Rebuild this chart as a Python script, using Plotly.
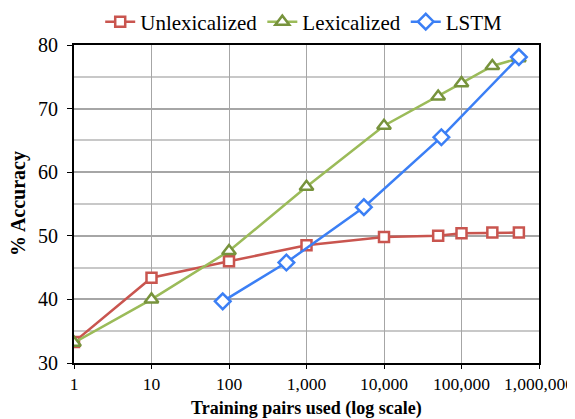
import plotly.graph_objects as go

x_unlex = [1, 10, 100, 1000, 10000, 50000, 100000, 250000, 550000]
y_unlex = [33.3, 43.4, 46.0, 48.5, 49.8, 50.0, 50.4, 50.5, 50.5]

x_lex = [1, 10, 100, 1000, 10000, 50000, 100000, 250000, 550000]
y_lex = [33.2, 40.0, 47.6, 57.7, 67.3, 71.9, 74.0, 76.7, 77.9]

x_lstm = [83, 550, 5500, 55000, 550000]
y_lstm = [39.7, 45.8, 54.5, 65.5, 78.1]

x_tickvals = [1, 10, 100, 1000, 10000, 100000, 1000000]
x_ticktext = ["1", "10", "100", "1,000", "10,000", "100,000", "1,000,000"]

FONT = "Liberation Serif"

# page body has an 8px margin; figure sized so it fills the 575x419 window
W, H = 567, 411
ML, MR, MT, MB = 66, 36, 37, 56
PW, PH = W - ML - MR, H - MT - MB

fig = go.Figure()
fig.add_trace(go.Scatter(
    x=x_unlex, y=y_unlex, name="Unlexicalized", mode="lines+markers",
    line=dict(color="#C9554F", width=2.5),
    marker=dict(symbol="square", size=10, color="white",
                line=dict(color="#C9554F", width=2.5)),
))
fig.add_trace(go.Scatter(
    x=x_lex, y=y_lex, name="Lexicalized", mode="lines+markers",
    line=dict(color="#9BBB59", width=2.5),
    marker=dict(symbol="triangle-up", size=12, color="white",
                line=dict(color="#77933C", width=2.5)),
))
fig.add_trace(go.Scatter(
    x=x_lstm, y=y_lstm, name="LSTM", mode="lines+markers",
    line=dict(color="#3B7FF5", width=2.5),
    marker=dict(symbol="diamond", size=12, color="white",
                line=dict(color="#3B7FF5", width=2.5)),
))

fig.update_layout(
    width=W, height=H,
    margin=dict(l=ML, r=MR, t=MT, b=MB, autoexpand=False),
    paper_bgcolor="white", plot_bgcolor="white",
    font=dict(family=FONT, size=19, color="black"),
    showlegend=True,
    legend=dict(orientation="h", x=0.494, xanchor="center", y=1 + 23 / PH, yanchor="middle",
                font=dict(family=FONT, size=21, color="black"),
                tracegroupgap=0, itemsizing="trace",
                bgcolor="rgba(0,0,0,0)"),
    annotations=[
        dict(text="<b>% Accuracy</b>", xref="paper", yref="paper",
             x=(10 - ML) / PW, y=0.5, xanchor="center", yanchor="middle",
             textangle=-90, showarrow=False, font=dict(family=FONT, size=20)),
        dict(text="<b>Training pairs used (log scale)</b>", xref="paper", yref="paper",
             x=0.5, y=-45 / PH, xanchor="center", yanchor="middle",
             showarrow=False, font=dict(family=FONT, size=18)),
    ],
)
fig.update_xaxes(
    type="log", range=[0, 6],
    tickvals=x_tickvals, ticktext=x_ticktext,
    showgrid=True, gridcolor="#A6A6A6", gridwidth=1,
    showline=True, linecolor="black", linewidth=2, mirror=True,
    ticks="outside", ticklen=4, tickcolor="black",
    tickfont=dict(family=FONT, size=17.5),
    ticklabeloverflow="allow",
    zeroline=False,
)
fig.update_yaxes(
    range=[30, 80], dtick=10, tick0=30,
    showgrid=True, gridcolor="#A6A6A6", gridwidth=1.5,
    minor=dict(dtick=5, showgrid=True, gridcolor="#C8C8C8", gridwidth=1.5, ticks=""),
    showline=True, linecolor="black", linewidth=2, mirror=True,
    ticks="outside", ticklen=5, tickcolor="black",
    tickfont=dict(family=FONT, size=20),
    ticklabelstandoff=5,
    zeroline=False,
)

fig.write_html("out.html")
